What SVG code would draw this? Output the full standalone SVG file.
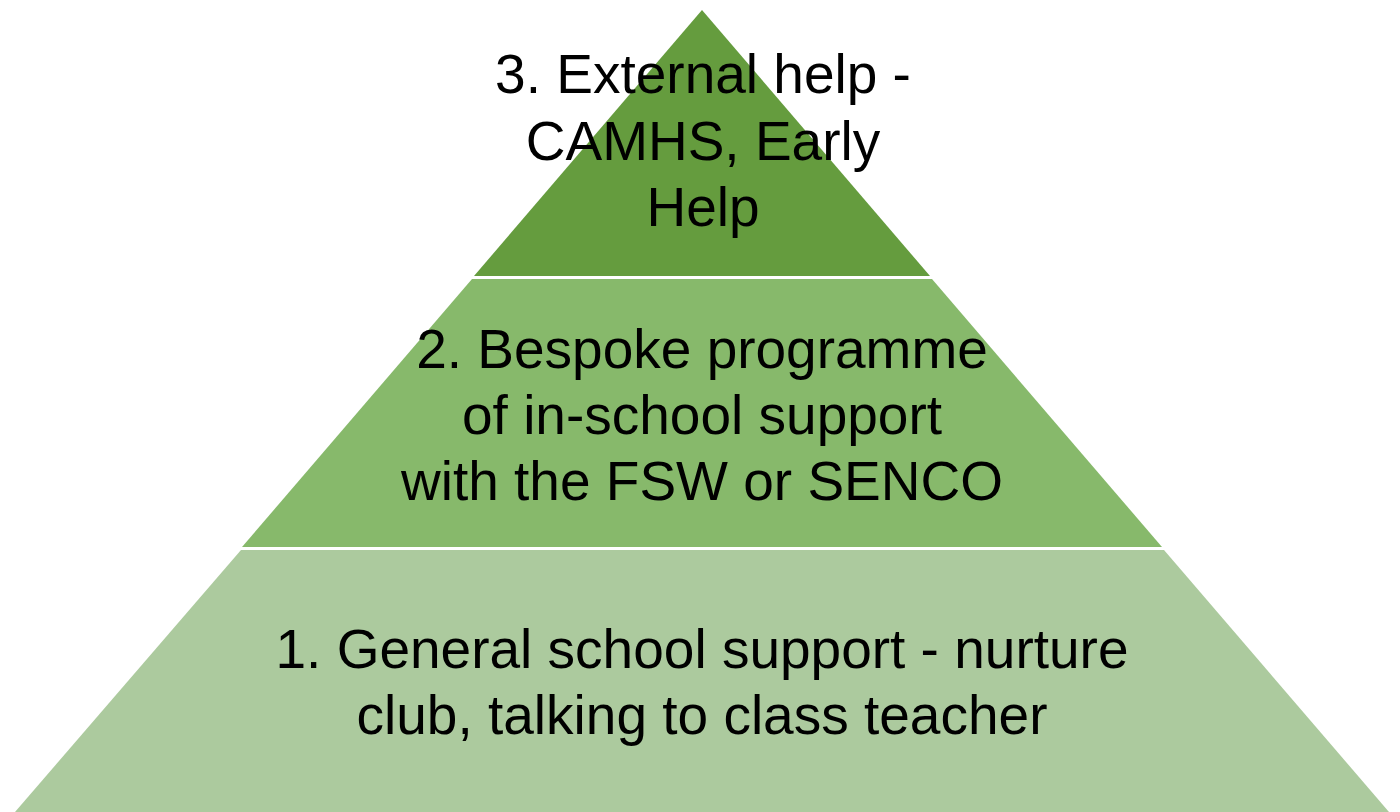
<svg xmlns="http://www.w3.org/2000/svg" width="1400" height="812" viewBox="0 0 1400 812">
  <style>
    .label { font-family: "Liberation Sans", Arial, sans-serif; font-size: 55px; fill: #000; text-anchor: middle; }
    .tier1 { fill: #ACCA9E; }
    .tier2 { fill: #87B96B; }
    .tier3 { fill: #659C3E; }
  </style>
  <rect width="1400" height="812" fill="#ffffff"/>

  <!-- Base tier -->
  <g id="tier-1">
    <polygon class="tier1" points="241,550 1164,550 1389,812 15,812"/>
    <text class="label" x="702" y="668">1. General school support - nurture</text>
    <text class="label" x="702" y="734">club, talking to class teacher</text>
  </g>

  <!-- Middle tier -->
  <g id="tier-2">
    <polygon class="tier2" points="472,279 932,279 1162,547 242,547"/>
    <text class="label" x="702" y="368">2. Bespoke programme</text>
    <text class="label" x="702" y="434">of in-school support</text>
    <text class="label" x="702" y="500">with the FSW or SENCO</text>
  </g>

  <!-- Top tier -->
  <g id="tier-3">
    <polygon class="tier3" points="702,10 930,276 474,276"/>
    <text class="label" x="703" y="93">3. External help -</text>
    <text class="label" x="703" y="160">CAMHS, Early</text>
    <text class="label" x="703" y="226">Help</text>
  </g>

  <g id="connectors"/>
</svg>
